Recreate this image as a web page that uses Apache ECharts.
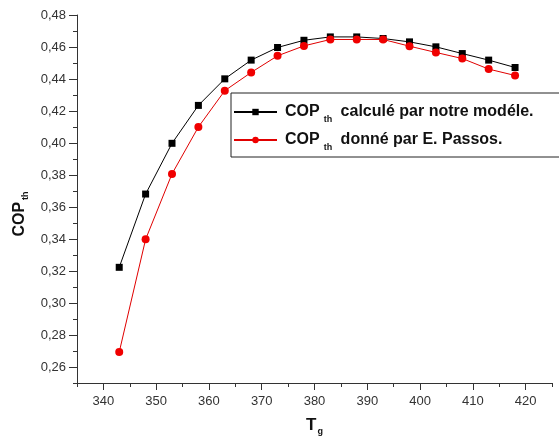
<!DOCTYPE html>
<html>
<head>
<meta charset="utf-8">
<script src="https://cdn.jsdelivr.net/npm/echarts@6/dist/echarts.min.js"></script>
<style>
  html, body { margin: 0; padding: 0; background: #fff; }
  #chart { width: 559px; height: 441px; }
</style>
</head>
<body>
<div id="chart"></div>
<script>
// Generator temperature Tg (K)
const tg = [343, 348, 353, 358, 363, 368, 373, 378, 383, 388, 393, 398, 403, 408, 413, 418];
// Thermal COP from our model
const copModel = [0.3223, 0.3681, 0.3998, 0.4235, 0.4401, 0.4518, 0.4597, 0.4642,
                  0.4663, 0.4663, 0.4653, 0.4632, 0.4601, 0.4559, 0.4518, 0.4472];
// Thermal COP given by E. Passos
const copPassos = [0.2693, 0.3398, 0.3807, 0.4100, 0.4327, 0.4441, 0.4545, 0.4607,
                   0.4647, 0.4647, 0.4647, 0.4605, 0.4566, 0.4528, 0.4462, 0.4422];
// Labelled ticks
const xTicks = [340, 350, 360, 370, 380, 390, 400, 410, 420];
const yTicks = [0.26, 0.28, 0.30, 0.32, 0.34, 0.36, 0.38, 0.40, 0.42, 0.44, 0.46, 0.48];

const FONT = '"Liberation Sans", Arial, sans-serif';
const AXIS_COLOR = '#333';

const chart = echarts.init(document.getElementById('chart'), null, { renderer: 'canvas' });

const option = {
  animation: false,
  backgroundColor: '#fff',
  grid: { left: 77, right: 7, top: 15, bottom: 56, containLabel: false },
  legend: {
    orient: 'vertical',
    left: 231,
    top: 93,
    padding: [7, 60, 5, 2],
    itemGap: 4,
    itemWidth: 43,
    itemHeight: 8,
    borderColor: '#222',
    borderWidth: 1,
    data: ['model', 'passos'],
    formatter: function (name) {
      return name === 'model'
        ? '{m|COP}{s|th}{m| calculé par notre modéle.}'
        : '{m|COP}{s|th}{m| donné par E. Passos.}';
    },
    textStyle: {
      padding: [0, 0, 0, 3],
      rich: {
        m: { fontFamily: FONT, fontWeight: 'bold', fontSize: 16, color: '#111', lineHeight: 21 },
        s: { fontFamily: FONT, fontWeight: 'bold', fontSize: 9, color: '#111', padding: [15, 4, 0, 4], lineHeight: 21 }
      }
    }
  },
  xAxis: [
    {
      type: 'value',
      min: 335,
      max: 425,
      splitLine: { show: false },
      axisLine: { show: true, onZero: false, lineStyle: { color: AXIS_COLOR, width: 1 } },
      axisTick: { show: true, customValues: xTicks, length: 7, lineStyle: { color: AXIS_COLOR } },
      axisLabel: {
        customValues: xTicks,
        margin: 12,
        color: AXIS_COLOR,
        fontFamily: FONT,
        fontSize: 13
      },
      name: '{t|T}{s|g}',
      nameLocation: 'middle',
      nameGap: 32,
      nameTextStyle: {
        rich: {
          t: { fontFamily: FONT, fontWeight: 'bold', fontSize: 17, color: '#111' },
          s: { fontFamily: FONT, fontWeight: 'bold', fontSize: 9, color: '#111', padding: [12, 0, 0, 1] }
        }
      }
    },
    {
      // minor ticks every 5 K
      type: 'value',
      min: 335,
      max: 425,
      interval: 5,
      position: 'bottom',
      splitLine: { show: false },
      axisLine: { show: false, onZero: false },
      axisTick: { show: true, length: 4, lineStyle: { color: AXIS_COLOR } },
      axisLabel: { show: false }
    }
  ],
  yAxis: [
    {
      type: 'value',
      min: 0.25,
      max: 0.48,
      splitLine: { show: false },
      axisLine: { show: true, onZero: false, lineStyle: { color: AXIS_COLOR, width: 1 } },
      axisTick: { show: true, customValues: yTicks, length: 8, lineStyle: { color: AXIS_COLOR } },
      axisLabel: {
        customValues: yTicks,
        margin: 11,
        color: AXIS_COLOR,
        fontFamily: FONT,
        fontSize: 13,
        formatter: function (v) { return v.toFixed(2).replace('.', ','); }
      },
      name: '{t|COP}{s|th}',
      nameLocation: 'middle',
      nameGap: 47,
      nameTextStyle: {
        padding: [0, 30, 0, 0],
        rich: {
          t: { fontFamily: FONT, fontWeight: 'bold', fontSize: 16, color: '#111' },
          s: { fontFamily: FONT, fontWeight: 'bold', fontSize: 9, color: '#111', padding: [12, 0, 0, 2] }
        }
      }
    },
    {
      // minor ticks every 0.01
      type: 'value',
      min: 0.25,
      max: 0.48,
      interval: 0.01,
      position: 'left',
      splitLine: { show: false },
      axisLine: { show: false, onZero: false },
      axisTick: { show: true, length: 4, lineStyle: { color: AXIS_COLOR } },
      axisLabel: { show: false }
    }
  ],
  series: [
    {
      name: 'model',
      type: 'line',
      xAxisIndex: 0,
      yAxisIndex: 0,
      data: tg.map((t, i) => [t, copModel[i]]),
      symbol: 'rect',
      symbolSize: 7,
      lineStyle: { color: '#000', width: 1 },
      itemStyle: { color: '#000' }
    },
    {
      name: 'passos',
      type: 'line',
      xAxisIndex: 0,
      yAxisIndex: 0,
      data: tg.map((t, i) => [t, copPassos[i]]),
      symbol: 'circle',
      symbolSize: 8,
      lineStyle: { color: '#e00000', width: 1 },
      itemStyle: { color: '#f00000' }
    }
  ]
};

chart.setOption(option);
</script>
</body>
</html>
